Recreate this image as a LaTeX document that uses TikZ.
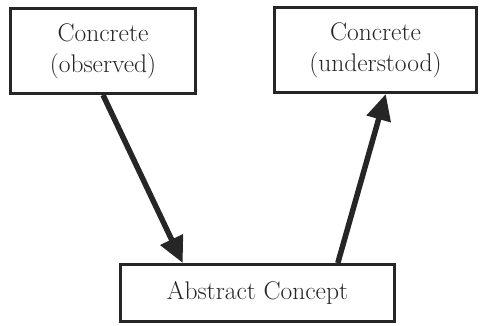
\documentclass[tikz,border=0pt]{standalone}
\usetikzlibrary{arrows.meta, calc, positioning}

\begin{document}
\begin{tikzpicture}[x=1pt, y=-1pt,
  concept/.style={rectangle, draw=black!85, line width=3pt, minimum height=85pt,
    align=center, inner sep=0pt, text=black!85,
    font=\fontsize{25.5}{31}\selectfont},
  link/.style={draw=black!85, line width=5.5pt, -{Triangle[length=26pt, width=24pt]}},
  thick]

  \useasboundingbox (0,0) rectangle (480,326);

  \node[concept, minimum width=185pt] (observed) at (103,51) {Concrete\\(observed)};
  \node[concept, minimum width=202pt] (understood) at (375.5,50) {Concrete\\(understood)};
  \node[concept, minimum width=274pt, minimum height=57pt] (abstract) at (257.5,293) {Abstract Concept};

  \draw[link] (observed.south) -- ($(abstract.north west)!0.23!(abstract.north east)$);
  \draw[link] ($(abstract.north west)!0.79!(abstract.north east)$) -- ($(understood.south west)!0.55!(understood.south east)$);
\end{tikzpicture}
\end{document}
